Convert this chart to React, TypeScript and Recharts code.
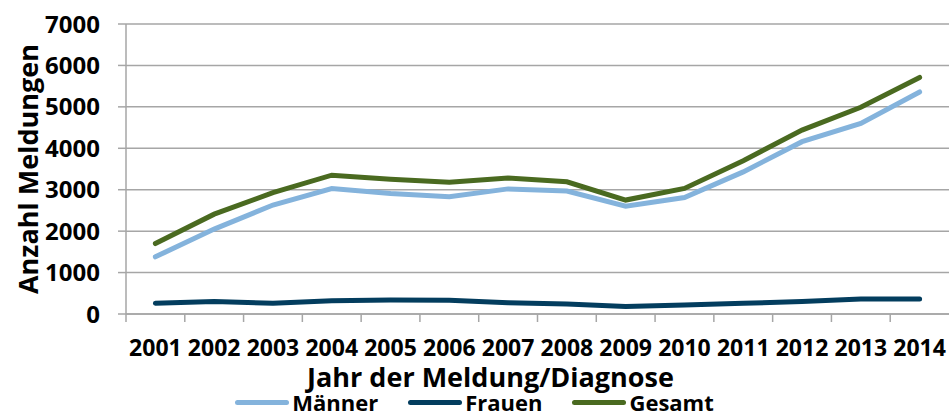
import { LineChart, Line, XAxis, YAxis, CartesianGrid, Legend, Label } from "recharts";

const YEARS = ["2001", "2002", "2003", "2004", "2005", "2006", "2007", "2008", "2009", "2010", "2011", "2012", "2013", "2014"];
const MAENNER = [1380, 2050, 2630, 3030, 2910, 2830, 3020, 2970, 2600, 2810, 3430, 4160, 4600, 5360];
const FRAUEN = [260, 300, 260, 320, 340, 330, 270, 240, 180, 220, 260, 300, 360, 360];
const GESAMT = [1700, 2410, 2930, 3350, 3250, 3180, 3280, 3190, 2750, 3030, 3700, 4440, 4990, 5710];
const Y_TICKS = [0, 1000, 2000, 3000, 4000, 5000, 6000, 7000];

const SERIES = [
    { key: "Männer", color: "#84b3dc" },
    { key: "Frauen", color: "#033d5e" },
    { key: "Gesamt", color: "#4a6a20" },
];

const data = YEARS.map((y, i) => ({
    year: y,
    "Männer": MAENNER[i],
    "Frauen": FRAUEN[i],
    "Gesamt": GESAMT[i],
}));

const FONT = "'Open Sans', sans-serif";
const GRID = "#a6a6a6";
const W = 949;
const H = 414;
const PLOT_LEFT = 126;
const BAND = (W - PLOT_LEFT) / YEARS.length;

// Excel-style: tick marks sit between categories, labels in the middle
const XTick = (props: any) => {
    const { x, y, payload } = props;
    return (
        <g>
            <line x1={x - BAND / 2} x2={x - BAND / 2} y1={y - 8} y2={y} stroke={GRID} strokeWidth={1.5} />
            <text x={x} y={y + 18} dy="0.71em" textAnchor="middle" fontFamily={FONT} fontWeight={700} fontSize={23} fill="#000">
                {payload.value}
            </text>
        </g>
    );
};

const LegendContent = () => (
    <div style={{ height: 24, display: "flex", justifyContent: "center", alignItems: "center", gap: 30, fontFamily: FONT, fontWeight: 700, fontSize: 22, color: "#000", lineHeight: "20px" }}>
        {SERIES.map((s) => (
            <div key={s.key} style={{ display: "flex", alignItems: "center", gap: 3 }}>
                <span style={{ width: 54, height: 5, borderRadius: 3, background: s.color, display: "inline-block" }} />
                <span>{s.key}</span>
            </div>
        ))}
    </div>
);

const YTitle = (props: any) => {
    const { viewBox } = props;
    const cy = viewBox.y + viewBox.height / 2;
    return (
        <text x={27} y={cy} transform={`rotate(-90, 27, ${cy})`} textAnchor="middle" dominantBaseline="central"
            fontFamily={FONT} fontWeight={700} fontSize={27} fill="#000">
            Anzahl Meldungen
        </text>
    );
};

export default function App() {
    return (
        <div style={{ position: "absolute", left: 0, top: 0, width: W, height: H, background: "#fff" }}>
            <LineChart width={W} height={H} data={data} margin={{ top: 24, right: 0, bottom: 0, left: 0 }}>
                <CartesianGrid horizontal vertical={false} stroke={GRID} strokeWidth={1.5} />
                <XAxis dataKey="year" height={76} padding={{ left: BAND / 2, right: BAND / 2 }}
                    axisLine={{ stroke: GRID, strokeWidth: 1.5 }} tickLine={false} tick={<XTick />} interval={0}>
                    <Label value="Jahr der Meldung/Diagnose" position="insideBottom" offset={3} dx={-47}
                        style={{ fontFamily: FONT, fontWeight: 700, fontSize: 27, fill: "#000" }} />
                </XAxis>
                <YAxis width={PLOT_LEFT} domain={[0, 7000]} ticks={Y_TICKS} interval={0}
                    axisLine={{ stroke: GRID, strokeWidth: 1.5 }} tickLine={{ stroke: GRID, strokeWidth: 1.5 }}
                    tickSize={8} tickMargin={18}
                    tick={{ fontFamily: FONT, fontWeight: 700, fontSize: 24, fill: "#000" }}>
                    <Label content={<YTitle />} />
                </YAxis>
                <Legend verticalAlign="bottom" content={<LegendContent />} />
                {SERIES.map((s) => (
                    <Line key={s.key} dataKey={s.key} stroke={s.color} strokeWidth={5} dot={false}
                        type="linear" strokeLinecap="round" isAnimationActive={false} />
                ))}
            </LineChart>
        </div>
    );
}
